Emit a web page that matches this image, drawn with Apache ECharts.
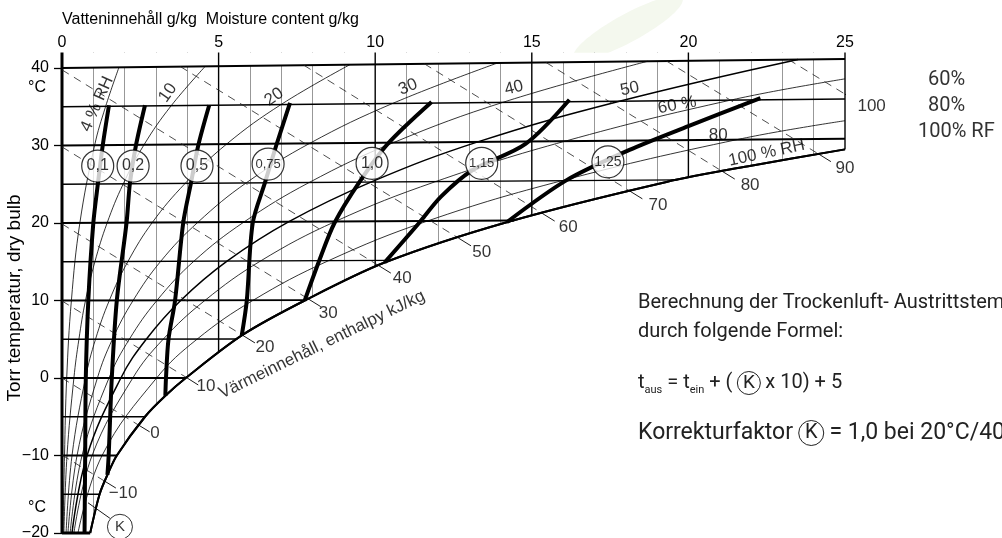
<!DOCTYPE html>
<html><head><meta charset="utf-8">
<script src="https://cdn.jsdelivr.net/npm/echarts@6/dist/echarts.min.js"></script>
<style>html,body{margin:0;padding:0;background:#fff}#c{width:1002px;height:538px}</style>
</head><body><div id="c"></div>
<script>
// ---------- data ----------
const xTicks = [0, 5, 10, 15, 20, 25];
const yTicks = [-20, -10, 0, 10, 20, 30, 40];
const majorX = [0, 5, 10, 15, 20, 25];
const majorBottom = [-20, -20, -20, -20, -20, 29.5];
const topBoundary = [[0, 40], [25, 41.16]];
const satCurve = [[0.9,-20],[1.2,-15],[1.45,-12.5],[1.75,-10],[2.65,-5],[3.3,-2.3],[3.95,0],[5.74,5.5],[7.75,10],[10.3,14.9],[14.2,20.1],[19.3,25.3],[22,27.4],[25,29.5]];
const isoTemps = [-15,-10,-5,0,5,10,15,20,25,30,35];
const isoEnds = [[1.2,-15],[1.75,-10],[2.65,-5],[3.95,0],[5.6,5.03],[7.77,10.05],[10.5,15.18],[14.43,20.33],[19.65,25.57],[25,30.87],[25,36.0]];
const bottomLine = [[0,-20],[0.9,-20]];

const rh4  = [[0.03,-20],[0.08,-10],[0.15,0],[0.3,10],[0.57,20],[1.04,30],[1.39,35],[1.82,40.1]];
const rh10 = [[0.06,-20],[0.16,-10],[0.38,0],[0.54,5],[0.75,10],[1.05,15],[1.44,20],[1.95,25],[2.62,30.1],[3.48,35.1],[4.57,40.2]];
const rh20 = [[0.13,-20],[0.32,-10],[0.75,0],[1.07,5],[1.51,10],[2.1,15],[2.89,20.1],[3.93,25.1],[5.26,30.2],[7.0,35.3],[9.19,40.43]];
const rh30 = [[0.19,-20],[0.48,-10],[1.13,0],[1.61,5],[2.27,10],[3.16,15.1],[4.34,20.1],[5.89,25.2],[7.92,30.3],[10.54,35.4],[13.9,40.64]];
const rh40 = [[0.26,-20],[0.64,-10],[1.5,0],[2.15,5],[3.03,10],[4.22,15.1],[5.8,20.1],[7.88,25.2],[10.6,30.4],[14.1,35.6],[18.7,40.87]];
const rh50 = [[0.32,-20],[0.8,-10],[1.88,0],[2.69,5],[3.79,10],[5.28,15.1],[7.26,20.2],[9.88,25.3],[13.3,30.5],[17.8,35.7],[23.5,41.09]];
const rh60 = [[0.38,-20],[0.96,-10],[2.26,0],[3.23,5],[4.56,10],[6.34,15.1],[8.73,20.2],[11.9,25.3],[16.1,30.6],[21.4,35.9],[25,38.6]];
const rh80 = [[0.51,-20],[1.28,-10],[3.02,0],[4.31,5],[6.09,10],[8.49,15.1],[11.7,20.3],[16.0,25.5],[21.6,30.8],[25,33.2]];

const hVals  = [-10,0,10,20,30,40,50,60,70,80,90,100];
const hStart = [[0,-9.94],[0,0],[0,9.94],[0,19.88],[0,29.82],[0,39.76],[3.78,40.18],[7.72,40.36],[11.57,40.54],[15.45,40.72],[19.3,40.9],[23.2,41.08]];
const hEnd   = [[1.37,-13.33],[2.45,-6.09],[3.97,0.07],[5.76,5.53],[7.86,10.21],[10.1,14.53],[12.66,18.05],[15.33,21.25],[18.13,24.12],[21.08,26.67],[24.15,28.92],[25,36.63]];
const hTick  = [[1.72,-14.2],[2.8,-6.95],[4.35,-0.9],[6.16,4.53],[8.26,9.21],[10.5,13.53],[13.06,17.05],[15.73,20.25],[18.53,23.12],[21.48,25.67],[24.55,27.92],[25.4,35.63]];
const hLabelPos = [[1.95,-14.9],[2.97,-7.2],[4.6,-1.1],[6.48,3.9],[8.5,8.4],[10.86,12.8],[13.4,16.2],[16.16,19.4],[19.03,22.3],[21.97,24.9],[25.0,27.1],[25.85,35.0]];

const K01  = [[1.5,35.2],[1.3,30],[1.15,25.2],[1.0,20],[0.84,10],[0.76,0],[0.74,-10],[0.72,-20]];
const K02  = [[2.65,35.2],[2.36,30],[2.17,25.2],[2.06,20],[1.75,10],[1.59,0],[1.49,-10],[1.45,-12.5]];
const K05  = [[4.7,35.2],[4.35,30],[4.12,25.2],[3.87,20],[3.61,10],[3.4,5],[3.32,0],[3.3,-2.3]];
const K075 = [[7.28,35.5],[6.84,30],[6.48,25.2],[6.09,20],[5.9,10],[5.74,5.5]];
const K10  = [[11.8,35.6],[10.4,30.2],[9.5,25.3],[8.7,20],[8.2,15],[7.75,10]];
const K115 = [[16.2,35.9],[14.8,30.2],[13.1,26.8],[12.1,23.4],[11.4,20],[10.3,14.9]];
const K125 = [[22.3,36.1],[20,32.5],[18.1,29.4],[16.1,25.5],[14.2,20.1]];

const circleLabels = ['0,1','0,2','0,5','0,75','1,0','1,15','1,25'];
const circlePos = [[1.14,27.35],[2.27,27.35],[4.31,27.35],[6.58,27.6],[9.9,27.7],[13.4,27.7],[17.43,27.9]];
const kMarkPos = [1.85,-19.2];
const kLeader = [[0.83,-16.1],[1.53,-18.1]];

const rhLabels = ['4 % RH','10','20','30','40','50','60 %','80','100 % RH'];
const rhLabelPos = [[1.12,35.35],[3.38,36.8],[6.77,36.26],[11.05,37.55],[14.43,37.42],[18.13,37.3],[19.64,35.2],[20.95,31.35],[22.5,29.03]];
const rhLabelRot = [66,55,35,22,14,12,10,0,12];

const enthalpyTitle = 'Värmeinnehåll, enthalpy kJ/kg';
const enthalpyTitlePos = [8.3,4.3];
const yAxisTitle = 'Torr temperatur, dry bulb';
const xAxisTitle = 'Vatteninnehåll g/kg  Moisture content g/kg';

// ---------- chart ----------
const F = '"Liberation Sans", Arial, sans-serif';
const chart = echarts.init(document.getElementById('c'), null, {renderer: 'canvas'});
function line(data, o) {
  return Object.assign({type:'line', data:data, symbol:'none', silent:true, animation:false,
    lineStyle:{color:'#000', width:1}, z:4}, o || {});
}
const series = [];
// white mask above the tilted top boundary
series.push(line(topBoundary, {z:1, lineStyle:{width:0}, areaStyle:{color:'#fff', origin:'end', opacity:1}}));
// major vertical lines (with ticks above the boundary)
majorX.forEach((x,i) => series.push(line([[x, majorBottom[i]],[x, 42]], {z:2, clip:false,
  lineStyle:{color:'#000', width: (x===0 ? 3 : 1.4)}})));
// saturation curve with white mask below
series.push(line(satCurve, {z:3, smooth:0.3, lineStyle:{color:'#000', width:2}, areaStyle:{color:'#fff', origin:'start', opacity:1}}));
series.push(line(satCurve, {z:6, smooth:0.3, lineStyle:{color:'#000', width:2}}));
// isotherms
isoTemps.forEach((t,i) => series.push(line([[0,t], isoEnds[i]], {lineStyle:{color:'#000', width:(t%10===0?1.9:1.3)}})));
series.push(line(bottomLine, {clip:false, lineStyle:{color:'#000', width:3}}));
series.push(line(topBoundary, {clip:false, lineStyle:{color:'#000', width:2}}));
// relative humidity curves
[rh4, rh10, rh20, rh30, rh40, rh60, rh80].forEach(c => series.push(line(c, {smooth:0.4, lineStyle:{color:'#000', width:0.8}})));
series.push(line(rh50, {smooth:0.4, lineStyle:{color:'#000', width:1.5}}));
// enthalpy lines
hVals.forEach((h,i) => {
  series.push(line([hStart[i], hEnd[i]], {lineStyle:{color:'#222', width:0.8, type:[8,6]}}));
  series.push(line([hEnd[i], hTick[i]], {clip:false, lineStyle:{color:'#000', width:0.9}}));
});
// K curves
[K01, K02, K05, K075, K10, K115, K125].forEach(c => series.push(line(c, {z:7, smooth:0.3, lineStyle:{color:'#000', width:4}})));
series.push(line(kLeader, {z:7, lineStyle:{color:'#000', width:0.9}}));
// circles
const circleFont = [16,16,16,13,16,13,14];
series.push({type:'scatter', z:9, silent:true, animation:false, clip:false, symbol:'circle', symbolSize:32,
  itemStyle:{color:'#fff', borderColor:'#000', borderWidth:1.2},
  label:{show:true, position:'inside', formatter:'{b}', color:'#000', fontFamily:F},
  data: circleLabels.map((t,i) => ({name:t, value:circlePos[i], label:{fontSize:circleFont[i]}}))});
series.push({type:'scatter', z:9, silent:true, animation:false, clip:false, symbol:'circle', symbolSize:25,
  itemStyle:{color:'#fff', borderColor:'#000', borderWidth:1},
  label:{show:true, position:'inside', formatter:'{b}', color:'#000', fontFamily:F, fontSize:15},
  data:[{name:'K', value:kMarkPos}]});
// text labels in data coordinates
const txt = [];
rhLabels.forEach((t,i) => txt.push({name:t, value:rhLabelPos[i], label:{rotate:rhLabelRot[i]}}));
hVals.forEach((h,i) => txt.push({name:String(h).replace('-', '\u2212'), value:hLabelPos[i], label:{rotate:0}}));
txt.push({name:enthalpyTitle, value:enthalpyTitlePos, label:{rotate:26, fontSize:17}});
series.push({type:'scatter', z:10, silent:true, animation:false, clip:false, symbolSize:1,
  itemStyle:{color:'rgba(0,0,0,0)'},
  label:{show:true, position:'inside', formatter:'{b}', color:'#000', fontFamily:F, fontSize:17},
  data: txt});

const option = {
  animation:false,
  backgroundColor:'#fff',
  grid:{left:62, right:157, top:52.5, bottom:5, containLabel:false, outerBoundsMode:'none'},
  xAxis:{type:'value', position:'top', min:0, max:25, interval:5,
    axisLine:{show:false}, axisTick:{show:false},
    axisLabel:{margin:2, fontSize:16, color:'#000', fontFamily:F, customValues:xTicks},
    splitLine:{show:false},
    minorTick:{show:false, splitNumber:5},
    minorSplitLine:{show:true, lineStyle:{color:'#8c8c8c', width:0.9}}},
  yAxis:{type:'value', min:-20, max:42, interval:10,
    axisLine:{show:false},
    axisTick:{show:true, length:8, lineStyle:{color:'#000', width:1.3}, customValues:yTicks},
    axisLabel:{margin:13, fontSize:16, color:'#000', fontFamily:F, customValues:yTicks,
      formatter: v => (v > 40 ? '' : String(v).replace('-', '\u2212'))},
    splitLine:{show:false}},
  graphic:[
    {type:'ellipse', z:-1, x:628, y:28, rotation:0.5, shape:{cx:0, cy:0, rx:62, ry:14}, style:{fill:'#f4f8ee'}},
    {type:'text', z:100, x:62, y:20, style:{text:xAxisTitle, font:'16px '+F, fill:'#000', textVerticalAlign:'middle'}},
    {type:'text', z:100, x:15, y:298, rotation:Math.PI/2, style:{text:yAxisTitle, font:'19px '+F, fill:'#000', textAlign:'center', textVerticalAlign:'middle'}},
    {type:'text', z:100, x:37, y:88, style:{text:'°C', font:'16px '+F, fill:'#000', textAlign:'center', textVerticalAlign:'middle'}},
    {type:'text', z:100, x:37, y:508, style:{text:'°C', font:'16px '+F, fill:'#000', textAlign:'center', textVerticalAlign:'middle'}},
    {type:'text', z:100, x:928, y:80, style:{text:'60%', font:'20px Roboto', fill:'#333', textVerticalAlign:'middle'}},
    {type:'text', z:100, x:928, y:106, style:{text:'80%', font:'20px Roboto', fill:'#333', textVerticalAlign:'middle'}},
    {type:'text', z:100, x:918, y:132, style:{text:'100% RF', font:'20px Roboto', fill:'#333', textVerticalAlign:'middle'}},
    {type:'text', z:100, x:638, y:303, style:{text:'Berechnung der Trockenluft- Austrittstemperatur', font:'20px Roboto', fill:'#222', textVerticalAlign:'middle'}},
    {type:'text', z:100, x:638, y:332, style:{text:'durch folgende Formel:', font:'20px Roboto', fill:'#222', textVerticalAlign:'middle'}},
    {type:'text', z:100, x:638, y:383, style:{
      text:'{t|t}{s|aus}{t| = t}{s|ein}{t| + ( }{k|K}{t| x 10) + 5}',
      textVerticalAlign:'middle',
      rich:{
        t:{fontFamily:'Roboto', fontSize:20, fill:'#222', lineHeight:26},
        s:{fontFamily:'Roboto', fontSize:11, fill:'#222', lineHeight:26, verticalAlign:'bottom', padding:[11,0,0,0]},
        k:{fontFamily:'Roboto', fontSize:19, fill:'#222', width:23, height:23, lineHeight:23, align:'center', borderColor:'#222', borderWidth:1, borderRadius:12}
      }}},
    {type:'text', z:100, x:638, y:433, style:{
      text:'{t|Korrekturfaktor }{k|K}{t| = 1,0 bei 20°C/40% RF}',
      textVerticalAlign:'middle',
      rich:{
        t:{fontFamily:'Roboto', fontSize:23, fill:'#222', lineHeight:28},
        k:{fontFamily:'Roboto', fontSize:20, fill:'#222', width:25, height:25, lineHeight:25, align:'center', borderColor:'#222', borderWidth:1, borderRadius:13}
      }}}
  ],
  series: series
};
chart.setOption(option);
</script>
</body></html>
